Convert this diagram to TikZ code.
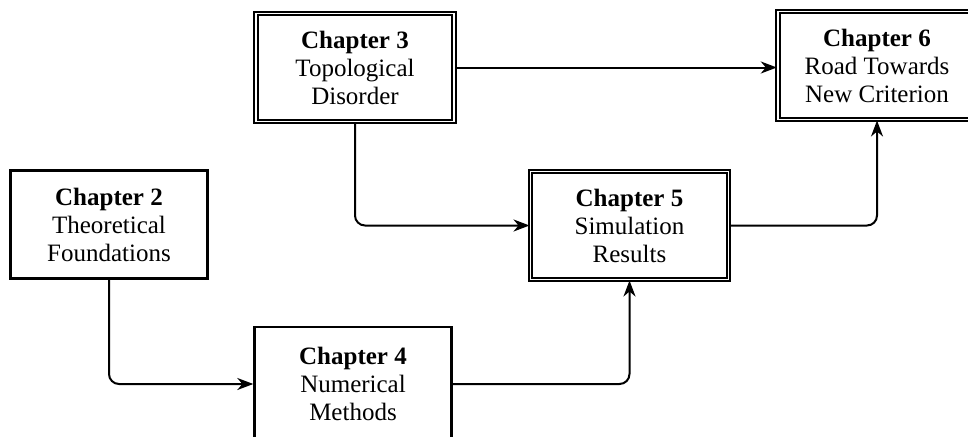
\documentclass[tikz,border=0pt]{standalone}
\usepackage{fontspec}
\setmainfont{Liberation Serif}
\usetikzlibrary{arrows.meta}
\begin{document}
\begin{tikzpicture}[x=1pt,y=-1pt,
  box/.style={draw, line width=2.4pt, minimum width=197pt, minimum height=108pt,
    align=center, inner sep=0pt, font=\fontsize{25}{28}\selectfont},
  dbox/.style={box, double, line width=2pt, double distance=1.6pt,
    minimum width=198pt, minimum height=108pt},
  conn/.style={line width=2pt, rounded corners=10pt,
    -{Stealth[length=16pt,width=12pt,inset=5pt]}}]
\useasboundingbox (0,0) rectangle (968,436);
\clip (0,0) rectangle (968,436);
\node[box]  (c2) at (109,224.5) {\textbf{Chapter 2}\\Theoretical\\Foundations};
\node[dbox] (c3) at (355,67.5)  {\textbf{Chapter 3}\\Topological\\Disorder};
\node[box, minimum height=114pt]  (c4) at (353,384) {\textbf{Chapter 4}\\Numerical\\Methods};
\node[dbox] (c5) at (629.5,225.5) {\textbf{Chapter 5}\\Simulation\\Results};
\node[dbox, minimum width=300pt] (c6) at (927.8,65.5)
  {\parbox{198pt}{\centering\textbf{Chapter 6}\\Road Towards\\New Criterion}\hspace*{101.6pt}};
\coordinate (c6in) at (877,0);
\draw[conn] (c3.east) -- (c3.east -| c6.west);
\draw[conn] (c3.south) |- (c5.west);
\draw[conn] (c2.south) |- (c4.west);
\draw[conn] (c4.east) -| (c5.south);
\draw[conn] (c5.east) -| (c6in |- c6.south);
\end{tikzpicture}
\end{document}
